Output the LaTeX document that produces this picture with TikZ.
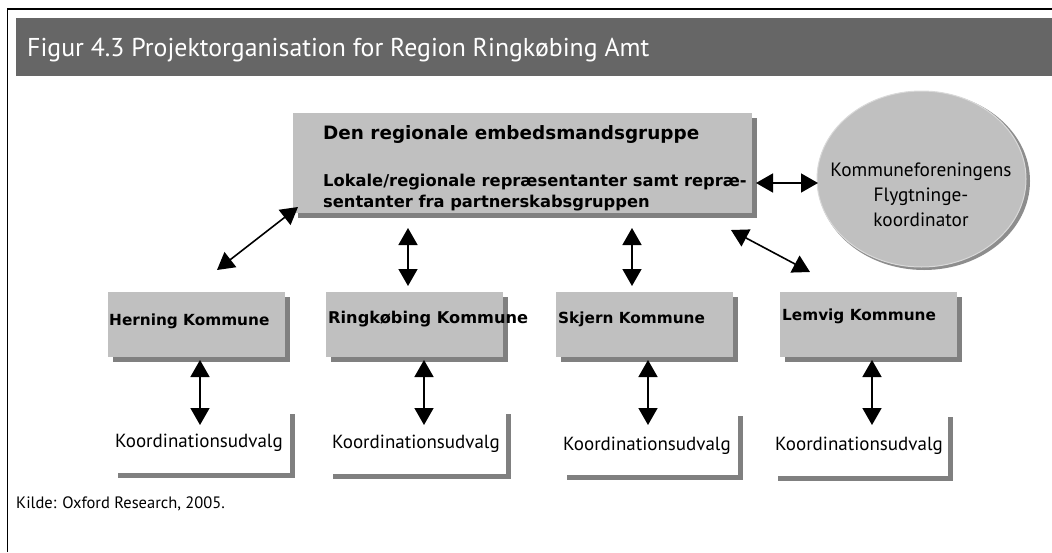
\documentclass[tikz,border=0pt]{standalone}
\usepackage{fontspec}
\setmainfont{PT Sans}
\newfontfamily\boldface{DejaVu Sans}
\usetikzlibrary{arrows.meta,shapes.geometric}
\definecolor{boxgray}{HTML}{C0C0C0}
\definecolor{shadowgray}{HTML}{808080}
\definecolor{titlegray}{HTML}{666666}
\tikzset{
  bx/.style={draw=none, fill=boxgray, inner sep=0pt, anchor=north west},
  wbx/.style={draw=none, fill=white, inner sep=0pt, anchor=north west},
  lbl/.style={inner sep=0pt, anchor=base west},
  biarrow/.style={line width=1.6pt, {Triangle[length=17pt,width=19pt]}-{Triangle[length=17pt,width=19pt]}},
  kom/.style={lbl, font=\boldface\fontsize{15.3}{18}\selectfont\bfseries},
  koord/.style={lbl, font=\fontsize{19}{22}\selectfont},
}
\begin{document}
\begin{tikzpicture}[x=1pt,y=-1pt]
\useasboundingbox (0,0) rectangle (1052,552);
% frame
\draw[line width=1.5pt] (7.5,552) -- (7.5,9) -- (1052,9);
\fill[titlegray] (16,18) rectangle (1052,76);
\node[lbl, text=white, font=\fontsize{25.8}{28}\selectfont] (title) at (27,56) {Figur 4.3 Projektorganisation for Region Ringkøbing Amt};
% main box
\fill[shadowgray] (298,118) rectangle (757,218);
\node[bx, minimum width=459pt, minimum height=100pt] (main) at (293,113) {};
\node[lbl, font=\boldface\fontsize{18.4}{22}\selectfont\bfseries] (mainT) at (323,139) {Den regionale embedsmandsgruppe};
\node[lbl, font=\boldface\fontsize{16.3}{20}\selectfont\bfseries] (mainS1) at (323,186) {Lokale/regionale repræsentanter samt repræ-};
\node[lbl, font=\boldface\fontsize{16.3}{20}\selectfont\bfseries] (mainS2) at (323,207) {sentanter fra partnerskabsgruppen};
% ellipse
\fill[shadowgray!90] (924,181) ellipse [x radius=106pt, y radius=89pt];
\node[ellipse, fill=boxgray, draw=boxgray!60!white, line width=1pt, minimum width=209pt, minimum height=176pt, inner sep=0pt] (ell) at (921.5,179) {};
\node[align=center, font=\fontsize{19.3}{25}\selectfont, inner sep=0pt] (ellT) at (921,195) {Kommuneforeningens\\Flygtninge-\\koordinator};
% kommune boxes
\foreach \n/\x in {herning/108, ring/326, skjern/556, lemvig/780}{
  \fill[shadowgray] (\x+5,297) rectangle (\x+182,362);
  \node[bx, minimum width=177pt, minimum height=65pt] (\n) at (\x,292) {};
}
\node[kom] (herningT) at (109,325) {Herning Kommune};
\node[kom, font=\boldface\fontsize{16.2}{18}\selectfont\bfseries] (ringT) at (328,323) {Ringkøbing Kommune};
\node[kom] (skjernT) at (558,323) {Skjern Kommune};
\node[kom] (lemvigT) at (782,320) {Lemvig Kommune};
% koordinationsudvalg boxes
\foreach \n/\xa/\ya/\xb/\yb in {kh/113/409/290/473, kr/328/409/506/474, ks/562/411/738/475, kl/773/412/948/476}{
  \fill[shadowgray] (\xa+5,\ya+5) rectangle (\xb+5,\yb+5);
  \node[wbx, minimum width=\xb-\xa, minimum height=\yb-\ya] (\n) at (\xa,\ya) {};
}
\node[koord] (khT) at (115,447) {Koordinationsudvalg};
\node[koord] (krT) at (332,448) {Koordinationsudvalg};
\node[koord] (ksT) at (563,450) {Koordinationsudvalg};
\node[koord] (klT) at (775,450) {Koordinationsudvalg};
% arrow endpoints
\coordinate (a1) at (217,270); \coordinate (a1m) at (298,207);
\coordinate (a2) at (408,286); \coordinate (a2m) at (408,228);
\coordinate (a3) at (632,286); \coordinate (a3m) at (632,228);
\coordinate (a4) at (810,272); \coordinate (a4m) at (731,230);
\coordinate (e1) at (756,183); \coordinate (e2) at (818,183);
\draw[biarrow] (a1) -- (a1m);
\draw[biarrow] (a2) -- (a2m);
\draw[biarrow] (a3) -- (a3m);
\draw[biarrow] (a4) -- (a4m);
\draw[biarrow] (e1) -- (e2);
\foreach \n/\x in {herning/200, ring/424, skjern/648, lemvig/872}{
  \coordinate (\n u) at (\x,360);
  \coordinate (\n d) at (\x,425);
  \draw[biarrow] (\n u) -- (\n d);
}
\node[lbl, font=\fontsize{16.5}{18}\selectfont] (kilde) at (16,508) {Kilde: Oxford Research, 2005.};
\end{tikzpicture}
\end{document}
